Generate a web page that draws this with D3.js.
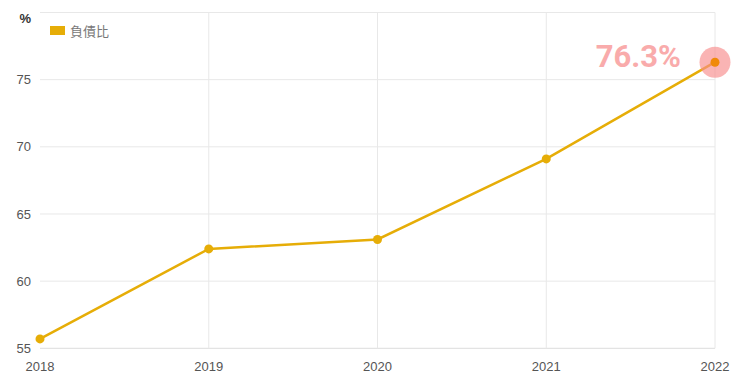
<!DOCTYPE html>
<html><head><meta charset="utf-8">
<script src="https://cdn.jsdelivr.net/npm/d3@7"></script>
<style>
html,body{margin:0;padding:0;background:#fff;}
svg{display:block;font-family:"Liberation Sans",Arial,sans-serif;}
</style></head>
<body><svg id="chart" width="740" height="381"></svg>
<script>
const years = ["2018","2019","2020","2021","2022"];
const debtRatio = [55.7, 62.4, 63.1, 69.1, 76.3];
const yTicks = [55, 60, 65, 70, 75, 80];
const seriesName = "負債比";
const highlightLabel = "76.3%";

(function(){
const svg = d3.select("#chart");
const mLeft = 40, mRight = 715, mTop = 12.5, mBottom = 348.3;

const x = d3.scalePoint().domain(years).range([mLeft, mRight]);
const y = d3.scaleLinear().domain([55, 80]).range([mBottom, mTop]);

svg.append("g").selectAll("line").data(yTicks).join("line")
  .attr("x1", mLeft).attr("x2", mRight)
  .attr("y1", d => y(d)).attr("y2", d => y(d))
  .attr("stroke", d => d === 55 ? "#dcdcdc" : "#e8e8e8").attr("stroke-width", 1);

svg.append("g").selectAll("line").data(years.slice(1)).join("line")
  .attr("x1", d => x(d)).attr("x2", d => x(d))
  .attr("y1", mTop).attr("y2", mBottom)
  .attr("stroke", "#e8e8e8").attr("stroke-width", 1);

svg.append("g").selectAll("text").data(yTicks).join("text")
  .attr("x", 31).attr("y", d => d === 80 ? y(d) + 6 : y(d)).attr("dy", "0.35em")
  .attr("text-anchor", "end").attr("font-size", 13).attr("fill", d => d === 80 ? "#333" : "#555")
  .attr("font-weight", d => d === 80 ? "bold" : "normal")
  .text(d => d === 80 ? "%" : d);

svg.append("g").selectAll("text").data(years).join("text")
  .attr("x", d => x(d)).attr("y", 371)
  .attr("text-anchor", "middle").attr("font-size", 13).attr("fill", "#555")
  .text(d => d);

const data = years.map((yr, i) => ({yr, v: debtRatio[i]}));
svg.append("path").datum(data)
  .attr("fill", "none").attr("stroke", "#e6ad07").attr("stroke-width", 2.5)
  .attr("d", d3.line().x(d => x(d.yr)).y(d => y(d.v)));

const last = data[data.length - 1];
svg.append("circle").attr("cx", x(last.yr)).attr("cy", y(last.v)).attr("r", 15.5)
  .attr("fill", "#f88c8c").attr("fill-opacity", 0.65);

svg.append("g").selectAll("circle").data(data).join("circle")
  .attr("cx", d => x(d.yr)).attr("cy", d => y(d.v)).attr("r", 4.5)
  .attr("fill", (d, i) => i === data.length - 1 ? "#f08a0a" : "#e6ad07");

svg.append("text").attr("x", 681).attr("y", y(last.v) + 5)
  .attr("text-anchor", "end").attr("font-size", 31).attr("font-weight", "bold").attr("fill", "#f9abab")
  .attr("font-family", "Roboto, 'Liberation Sans', sans-serif")
  .text(highlightLabel);

svg.append("rect").attr("x", 50).attr("y", 26).attr("width", 15).attr("height", 9).attr("fill", "#e6ad07");
svg.append("text").attr("x", 70).attr("y", 35.5).attr("font-size", 13).attr("fill", "#777")
  .attr("font-family", "'Noto Sans CJK TC', sans-serif").text(seriesName);
})();
</script></body></html>
